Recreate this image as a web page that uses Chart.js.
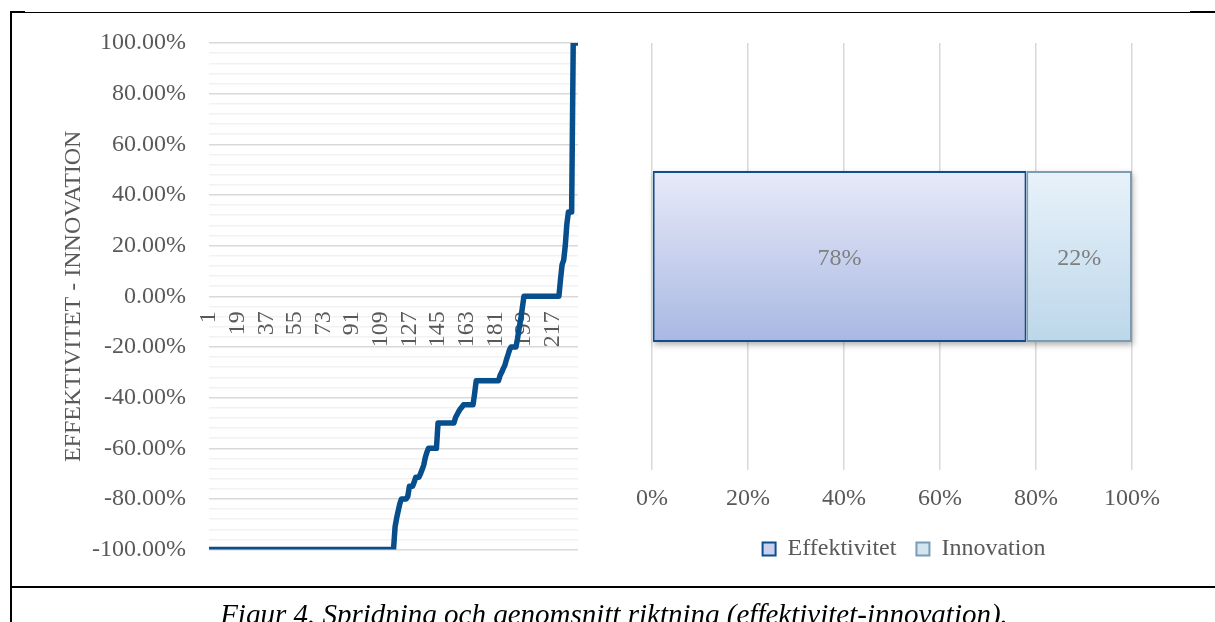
<!DOCTYPE html>
<html>
<head>
<meta charset="utf-8">
<script src="https://cdn.jsdelivr.net/npm/chart.js@4.4.1/dist/chart.umd.min.js"></script>
<style>
  html, body { margin: 0; padding: 0; background: #fff; width: 1215px; height: 622px; overflow: hidden; position: relative; }
  #spread { position: absolute; left: 0; top: 0; }
  #share { position: absolute; left: 600px; top: 0; }
  .rule { position: absolute; background: #000; }
  #caption { position: absolute; left: 10px; width: 1208px; top: 600px; text-align: center;
             font: italic 29px/29px 'Liberation Serif', 'Times New Roman', serif; color: #000; white-space: nowrap; }
</style>
</head>
<body>
<canvas id="spread" width="600" height="587"></canvas>
<canvas id="share" width="615" height="587"></canvas>
<div class="rule" style="left:10px;top:12px;width:1205px;height:1px"></div>
<div class="rule" style="left:10px;top:11px;width:15px;height:2px"></div>
<div class="rule" style="left:1190px;top:11px;width:25px;height:2px"></div>
<div class="rule" style="left:10px;top:12px;width:2px;height:610px"></div>
<div class="rule" style="left:10px;top:586px;width:1205px;height:2px"></div>
<div id="caption">Figur 4. Spridning och genomsnitt riktning (effektivitet-innovation).</div>
<script>
// ---- data: sorted direction score per respondent (effektivitet - innovation, in %) ----
const respondents = Array.from({ length: 233 }, (_, i) => String(i + 1));
const shownRespondentTicks = ['1', '19', '37', '55', '73', '91', '109', '127', '145', '163', '181', '199', '217'];
const directionScore = [
  -100, -100, -100, -100, -100, -100, -100, -100, -100, -100,
  -100, -100, -100, -100, -100, -100, -100, -100, -100, -100,
  -100, -100, -100, -100, -100, -100, -100, -100, -100, -100,
  -100, -100, -100, -100, -100, -100, -100, -100, -100, -100,
  -100, -100, -100, -100, -100, -100, -100, -100, -100, -100,
  -100, -100, -100, -100, -100, -100, -100, -100, -100, -100,
  -100, -100, -100, -100, -100, -100, -100, -100, -100, -100,
  -100, -100, -100, -100, -100, -100, -100, -100, -100, -100,
  -100, -100, -100, -100, -100, -100, -100, -100, -100, -100,
  -100, -100, -100, -100, -100, -100, -100, -100, -100, -100,
  -100, -100, -100, -100, -100, -100, -100, -100, -100, -100,
  -100, -100, -100, -100, -100, -100, -100,
  -91, -87.5, -84.62, -81.82, -80, -80, -80, -80, -78.95,
  -75, -75, -75, -73.33, -71.43, -71.43, -71.43, -70, -68.42,
  -66.67, -63.64, -61.54,
  -60, -60, -60, -60, -60, -60,
  -50, -50, -50, -50, -50, -50, -50, -50, -50, -50, -50,
  -47.83, -46.67, -45.45, -44.44, -43.75,
  -42.86, -42.86, -42.86, -42.86, -42.86, -42.86, -42.86,
  -38.46,
  -33.33, -33.33, -33.33, -33.33, -33.33, -33.33, -33.33, -33.33,
  -33.33, -33.33, -33.33, -33.33, -33.33, -33.33, -33.33,
  -31.25, -30, -28.57, -27.27, -25, -23.08, -21.05,
  -20, -20, -20, -20,
  -16.67, -12.5, -9.09, -4.55,
  0, 0, 0, 0, 0, 0, 0, 0, 0, 0, 0, 0,
  0, 0, 0, 0, 0, 0, 0, 0, 0, 0, 0,
  6.67, 12.5, 14.29, 20, 28.57, 33.33, 33.33, 33.33,
  100, 100, 100, 100
];

// ---- data: overall direction split ----
const shareCategories = ['Riktning'];
const effektivitetShare = [78];
const innovationShare = [22];

const FONT = "'Liberation Serif', 'Times New Roman', serif";
const TEXT_GREY = '#595959';
const LABEL_SIZE = 24;

// ---- left: spread of direction scores ----
new Chart(document.getElementById('spread'), {
  type: 'line',
  data: {
    labels: respondents,
    datasets: [{
      data: directionScore,
      borderColor: '#064e8c',
      borderWidth: 5.5,
      pointRadius: 0,
      tension: 0,
      fill: false,
      borderJoinStyle: 'round',
      borderCapStyle: 'butt'
    }]
  },
  options: {
    responsive: false,
    animation: false,
    devicePixelRatio: 1,
    layout: { padding: { left: 0, top: 43, right: 22, bottom: 31 } },
    plugins: { legend: { display: false }, tooltip: { enabled: false } },
    scales: {
      x: {
        type: 'category',
        position: { y: 0 },
        offset: false,
        grid: { display: false, drawTicks: false },
        border: { display: false },
        ticks: {
          autoSkip: false,
          minRotation: 90,
          maxRotation: 90,
          padding: 15,
          color: TEXT_GREY,
          font: { family: FONT, size: LABEL_SIZE },
          callback: function (value) {
            const label = this.getLabelForValue(value);
            return shownRespondentTicks.includes(label) ? label : '';
          }
        },
        afterFit: (scale) => { scale.paddingLeft = 0; scale.paddingRight = 0; }
      },
      y: {
        min: -100,
        max: 100,
        position: 'left',
        ticks: {
          stepSize: 4,
          autoSkip: false,
          padding: 23,
          color: TEXT_GREY,
          font: { family: FONT, size: LABEL_SIZE },
          callback: (v) => {
            const r = Math.round(v);
            return r % 20 === 0 ? (r === 0 ? 0 : r).toFixed(2) + '%' : '';
          }
        },
        grid: {
          drawTicks: false,
          lineWidth: 1.5,
          color: (c) => (Math.round(c.tick.value) % 20 === 0 ? '#d9d9d9' : '#f2f2f2')
        },
        border: { display: false },
        title: {
          display: true,
          text: 'EFFEKTIVITET - INNOVATION',
          color: TEXT_GREY,
          font: { family: FONT, size: LABEL_SIZE },
          padding: { top: 59, bottom: 0 }
        },
        afterFit: (scale) => { scale.width = 209; }
      }
    }
  }
});

// ---- right: 100% stacked split ----
function barGradient(top, bottom) {
  return (c) => {
    const area = c.chart.chartArea;
    if (!area) return bottom;
    const g = c.chart.ctx.createLinearGradient(0, area.top + area.height * 0.3, 0, area.top + area.height * 0.7);
    g.addColorStop(0, top);
    g.addColorStop(1, bottom);
    return g;
  };
}

const barShadow = {
  id: 'barShadow',
  beforeDatasetsDraw(chart) {
    const ctx = chart.ctx;
    ctx.save();
    ctx.shadowColor = 'rgba(0,0,0,0.30)';
    ctx.shadowBlur = 6;
    ctx.shadowOffsetX = 1;
    ctx.shadowOffsetY = 3;
    ctx.fillStyle = '#ffffff';
    chart.data.datasets.forEach((ds, di) => {
      chart.getDatasetMeta(di).data.forEach((bar) => {
        const p = bar.getProps(['x', 'y', 'base', 'height'], true);
        ctx.fillRect(Math.min(p.base, p.x), p.y - p.height / 2, Math.abs(p.x - p.base), p.height);
      });
    });
    ctx.restore();
  }
};

const barValueLabels = {
  id: 'barValueLabels',
  afterDatasetsDraw(chart) {
    const ctx = chart.ctx;
    ctx.save();
    ctx.font = LABEL_SIZE + 'px ' + FONT;
    ctx.fillStyle = '#7f7f7f';
    ctx.textAlign = 'center';
    ctx.textBaseline = 'middle';
    chart.data.datasets.forEach((ds, di) => {
      chart.getDatasetMeta(di).data.forEach((bar, i) => {
        const pt = bar.getCenterPoint();
        ctx.fillText(ds.data[i] + '%', pt.x, pt.y + 2);
      });
    });
    ctx.restore();
  }
};

const legendNudge = {
  id: 'legendNudge',
  afterLayout(chart) {
    chart.legend.left += 12;
    chart.legend.right += 12;
  }
};

const legendSwatches = [
  { fill: '#c8d1ef', stroke: '#0d4e8e' },
  { fill: '#d3e5f1', stroke: '#7b9cb3' }
];

new Chart(document.getElementById('share'), {
  type: 'bar',
  data: {
    labels: shareCategories,
    datasets: [
      {
        label: 'Effektivitet',
        data: effektivitetShare,
        backgroundColor: barGradient('#e7eaf8', '#a9b8e3'),
        borderColor: '#0d4e8e',
        borderWidth: 2,
        borderSkipped: false,
        barPercentage: 0.4,
        categoryPercentage: 1
      },
      {
        label: 'Innovation',
        data: innovationShare,
        backgroundColor: barGradient('#e8f2fa', '#bcd7ea'),
        borderColor: '#7b9cb3',
        borderWidth: 2,
        borderSkipped: false,
        barPercentage: 0.4,
        categoryPercentage: 1
      }
    ]
  },
  options: {
    indexAxis: 'y',
    responsive: false,
    animation: false,
    devicePixelRatio: 1,
    layout: { padding: { left: 52, right: 83, top: 43, bottom: 16 } },
    plugins: {
      tooltip: { enabled: false },
      legend: {
        position: 'bottom',
        labels: {
          boxWidth: 13,
          boxHeight: 13,
          padding: 20,
          color: TEXT_GREY,
          font: { family: FONT, size: LABEL_SIZE },
          generateLabels: (chart) => chart.data.datasets.map((ds, i) => ({
            text: ds.label,
            fillStyle: legendSwatches[i].fill,
            strokeStyle: legendSwatches[i].stroke,
            lineWidth: 2,
            fontColor: TEXT_GREY,
            datasetIndex: i,
            hidden: false
          }))
        }
      }
    },
    scales: {
      x: {
        stacked: true,
        min: 0,
        max: 100,
        ticks: {
          stepSize: 20,
          padding: 14,
          color: TEXT_GREY,
          font: { family: FONT, size: LABEL_SIZE },
          callback: (v) => v + '%'
        },
        grid: { color: '#d9d9d9', lineWidth: 1.5, drawTicks: false },
        border: { display: false },
        afterFit: (scale) => { scale.height = 47; }
      },
      y: { stacked: true, display: false }
    }
  },
  plugins: [barShadow, barValueLabels, legendNudge]
});
</script>
</body>
</html>
